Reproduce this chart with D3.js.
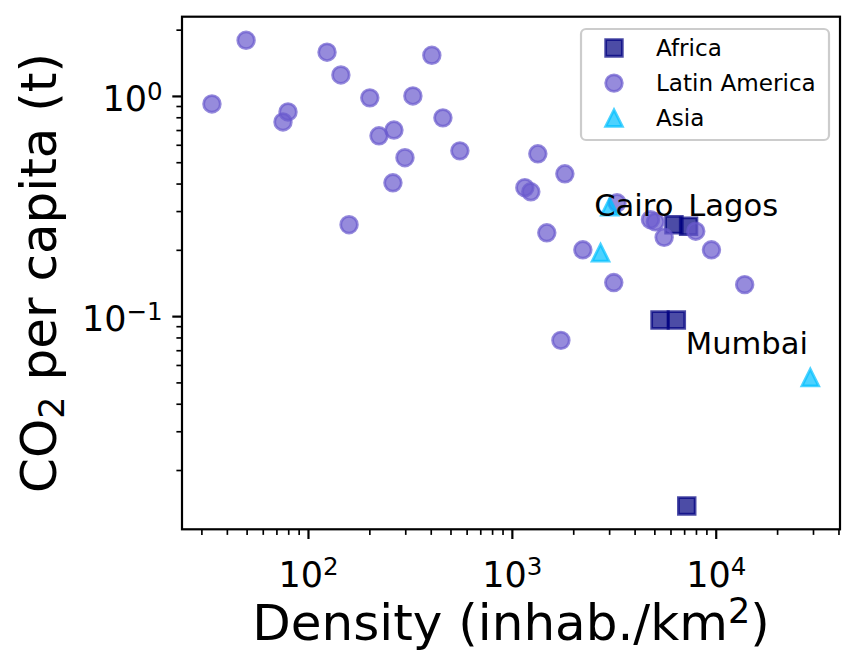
<!DOCTYPE html>
<html><head><meta charset="utf-8">
<script src="https://cdn.jsdelivr.net/npm/d3@7"></script>
<style>
body{margin:0;background:#fff}
svg{display:block}
text{font-family:"DejaVu Sans",sans-serif;fill:#000}
</style>
</head><body>
<svg id="chart" width="857" height="672"></svg>
<script>
// ---- data ----
const regions = ["Africa", "Latin America", "Asia"];
const regionColors = ["#000080", "#6A5ACD", "#00BFFF"];

const africaDensity = [6240, 7360, 5330, 6410, 7210];
const africaCO2     = [0.26, 0.256, 0.096, 0.096, 0.01374];

const latamDensity = [33.8, 49.7, 75.4, 79.8, 124, 145, 159, 201, 223, 264, 261, 299, 327, 405, 459, 556,
                      1158, 1239, 1341, 1484, 1820, 1740, 2230, 3162, 3280, 4786, 5060, 5585, 7980, 9530, 13870];
const latamCO2     = [0.92, 1.79, 0.762, 0.846, 1.58, 1.245, 0.26, 0.98, 0.659, 0.70, 0.403, 0.524, 1.0, 1.53, 0.795, 0.563,
                      0.383, 0.367, 0.546, 0.239, 0.443, 0.0776, 0.2, 0.142, 0.327, 0.274, 0.268, 0.228, 0.243, 0.2, 0.139];

const asiaDensity = [3020, 2723, 29100];
const asiaCO2     = [0.314, 0.194, 0.0526];

const labelNames   = ["Cairo", "Lagos", "Mumbai"];
const labelDensity = [2535, 7330, 7130];
const labelCO2     = [0.286, 0.286, 0.0671];

const xMajorTicks = [100, 1000, 10000];
const xTickExps   = ["2", "3", "4"];
const yMajorTicks = [1, 0.1];
const yTickExps   = ["0", "\u22121"];

const xDomain = [24.1, 40700];
const yDomain = [0.01076, 2.29];

// ---- layout ----
const svg = d3.select("#chart");
const L = 182, R = 840, T = 16.7, B = 529.3;
const x = d3.scaleLog().domain(xDomain).range([L, R]);
const y = d3.scaleLog().domain(yDomain).range([B, T]);

function minorTicks(domain) {
  const out = [];
  const lo = Math.floor(Math.log10(domain[0])), hi = Math.ceil(Math.log10(domain[1]));
  for (let e = lo; e <= hi; e++) for (let m = 2; m <= 9; m++) {
    const v = m * Math.pow(10, e);
    if (v >= domain[0] && v <= domain[1]) out.push(v);
  }
  return out;
}

const MAJ = 9.7, MIN = 5.6, PAD = 9.7;
const tickFont = 35, supFont = 24.5;

// x axis
const gx = svg.append("g").attr("transform", `translate(0,${B})`);
gx.call(d3.axisBottom(x).tickValues(minorTicks(xDomain)).tickSize(MIN).tickFormat(() => ""))
  .call(g => g.select(".domain").remove())
  .call(g => g.selectAll("line").attr("stroke", "#000").attr("stroke-width", 1.67));
const gx2 = svg.append("g").attr("transform", `translate(0,${B})`);
gx2.call(d3.axisBottom(x).tickValues(xMajorTicks).tickSize(MAJ).tickFormat(() => ""))
  .call(g => g.select(".domain").remove())
  .call(g => g.selectAll("line").attr("stroke", "#000").attr("stroke-width", 2.2));
gx2.selectAll(".tick").each(function(d, i) {
  const t = d3.select(this).append("text").attr("x", 0).attr("y", MAJ + PAD + 38)
    .attr("text-anchor", "middle").attr("font-size", tickFont).attr("fill", "#000");
  t.append("tspan").text("10");
  t.append("tspan").attr("font-size", supFont).attr("dy", -11.5).text(xTickExps[i]);
});

// y axis
const gy = svg.append("g").attr("transform", `translate(${L},0)`);
gy.call(d3.axisLeft(y).tickValues(minorTicks(yDomain)).tickSize(MIN).tickFormat(() => ""))
  .call(g => g.select(".domain").remove())
  .call(g => g.selectAll("line").attr("stroke", "#000").attr("stroke-width", 1.67));
const gy2 = svg.append("g").attr("transform", `translate(${L},0)`);
gy2.call(d3.axisLeft(y).tickValues(yMajorTicks).tickSize(MAJ).tickFormat(() => ""))
  .call(g => g.select(".domain").remove())
  .call(g => g.selectAll("line").attr("stroke", "#000").attr("stroke-width", 2.2));
gy2.selectAll(".tick").each(function(d, i) {
  const t = d3.select(this).append("text").attr("x", -(MAJ + PAD)).attr("y", 14.7)
    .attr("text-anchor", "end").attr("font-size", tickFont).attr("fill", "#000");
  t.append("tspan").text("10");
  t.append("tspan").attr("font-size", supFont).attr("dy", -11.5).text(yTickExps[i]);
});

// spines
svg.append("rect").attr("x", L).attr("y", T).attr("width", R - L).attr("height", B - T)
  .attr("fill", "none").attr("stroke", "#000").attr("stroke-width", 2.2);

// axis labels
const xl = svg.append("text").attr("x", (L + R) / 2).attr("y", 640)
  .attr("text-anchor", "middle").attr("font-size", 50);
xl.append("tspan").text("Density (inhab./km");
xl.append("tspan").attr("font-size", 35).attr("dy", -17).text("2");
xl.append("tspan").attr("dy", 17).text(")");

const yl = svg.append("text").attr("transform", `translate(56,${(T + B) / 2}) rotate(-90)`)
  .attr("text-anchor", "middle").attr("font-size", 50);
yl.append("tspan").text("CO");
yl.append("tspan").attr("font-size", 35).attr("dy", 8).text("2");
yl.append("tspan").attr("dy", -8).text(" per capita (t)");

// markers
const S = 16.67;
const triangleUp = {
  draw(ctx, size) {
    const h = Math.sqrt(size) / 2;
    ctx.moveTo(0, -h); ctx.lineTo(-h, h); ctx.lineTo(h, h); ctx.closePath();
  }
};
const symbols = [
  d3.symbol().type(d3.symbolSquare).size(S * S),
  d3.symbol().type(d3.symbolCircle).size(Math.PI * (S / 2) * (S / 2)),
  d3.symbol().type(triangleUp).size(S * S)
];
const series = [
  d3.zip(africaDensity, africaCO2),
  d3.zip(latamDensity, latamCO2),
  d3.zip(asiaDensity, asiaCO2)
];
const plot = svg.append("g");
series.forEach((pts, k) => {
  plot.append("g").selectAll("path").data(pts).join("path")
    .attr("transform", d => `translate(${x(d[0])},${y(d[1])})`)
    .attr("d", symbols[k]())
    .attr("fill", regionColors[k]).attr("fill-opacity", 0.7)
    .attr("stroke", regionColors[k]).attr("stroke-opacity", 0.7)
    .attr("stroke-width", 2.78).attr("stroke-linejoin", "miter");
});

// annotations
svg.append("g").selectAll("text").data(labelNames).join("text")
  .attr("x", (d, i) => x(labelDensity[i]))
  .attr("y", (d, i) => y(labelCO2[i]))
  .attr("font-size", 30.6).text(d => d);

// legend
const lg = svg.append("g");
lg.append("rect").attr("x", 581).attr("y", 29).attr("width", 248).attr("height", 111)
  .attr("rx", 5).attr("fill", "#fff").attr("fill-opacity", 0.8)
  .attr("stroke", "#cccccc").attr("stroke-width", 2.2);
const rowBase = [55.7, 90.9, 125.9];
regions.forEach((name, k) => {
  lg.append("path").attr("transform", `translate(614,${rowBase[k] - 7.8})`)
    .attr("d", symbols[k]())
    .attr("fill", regionColors[k]).attr("fill-opacity", 0.7)
    .attr("stroke", regionColors[k]).attr("stroke-opacity", 0.7)
    .attr("stroke-width", 2.78);
  lg.append("text").attr("x", 656).attr("y", rowBase[k]).attr("font-size", 23.1).text(name);
});
</script>
</body></html>
